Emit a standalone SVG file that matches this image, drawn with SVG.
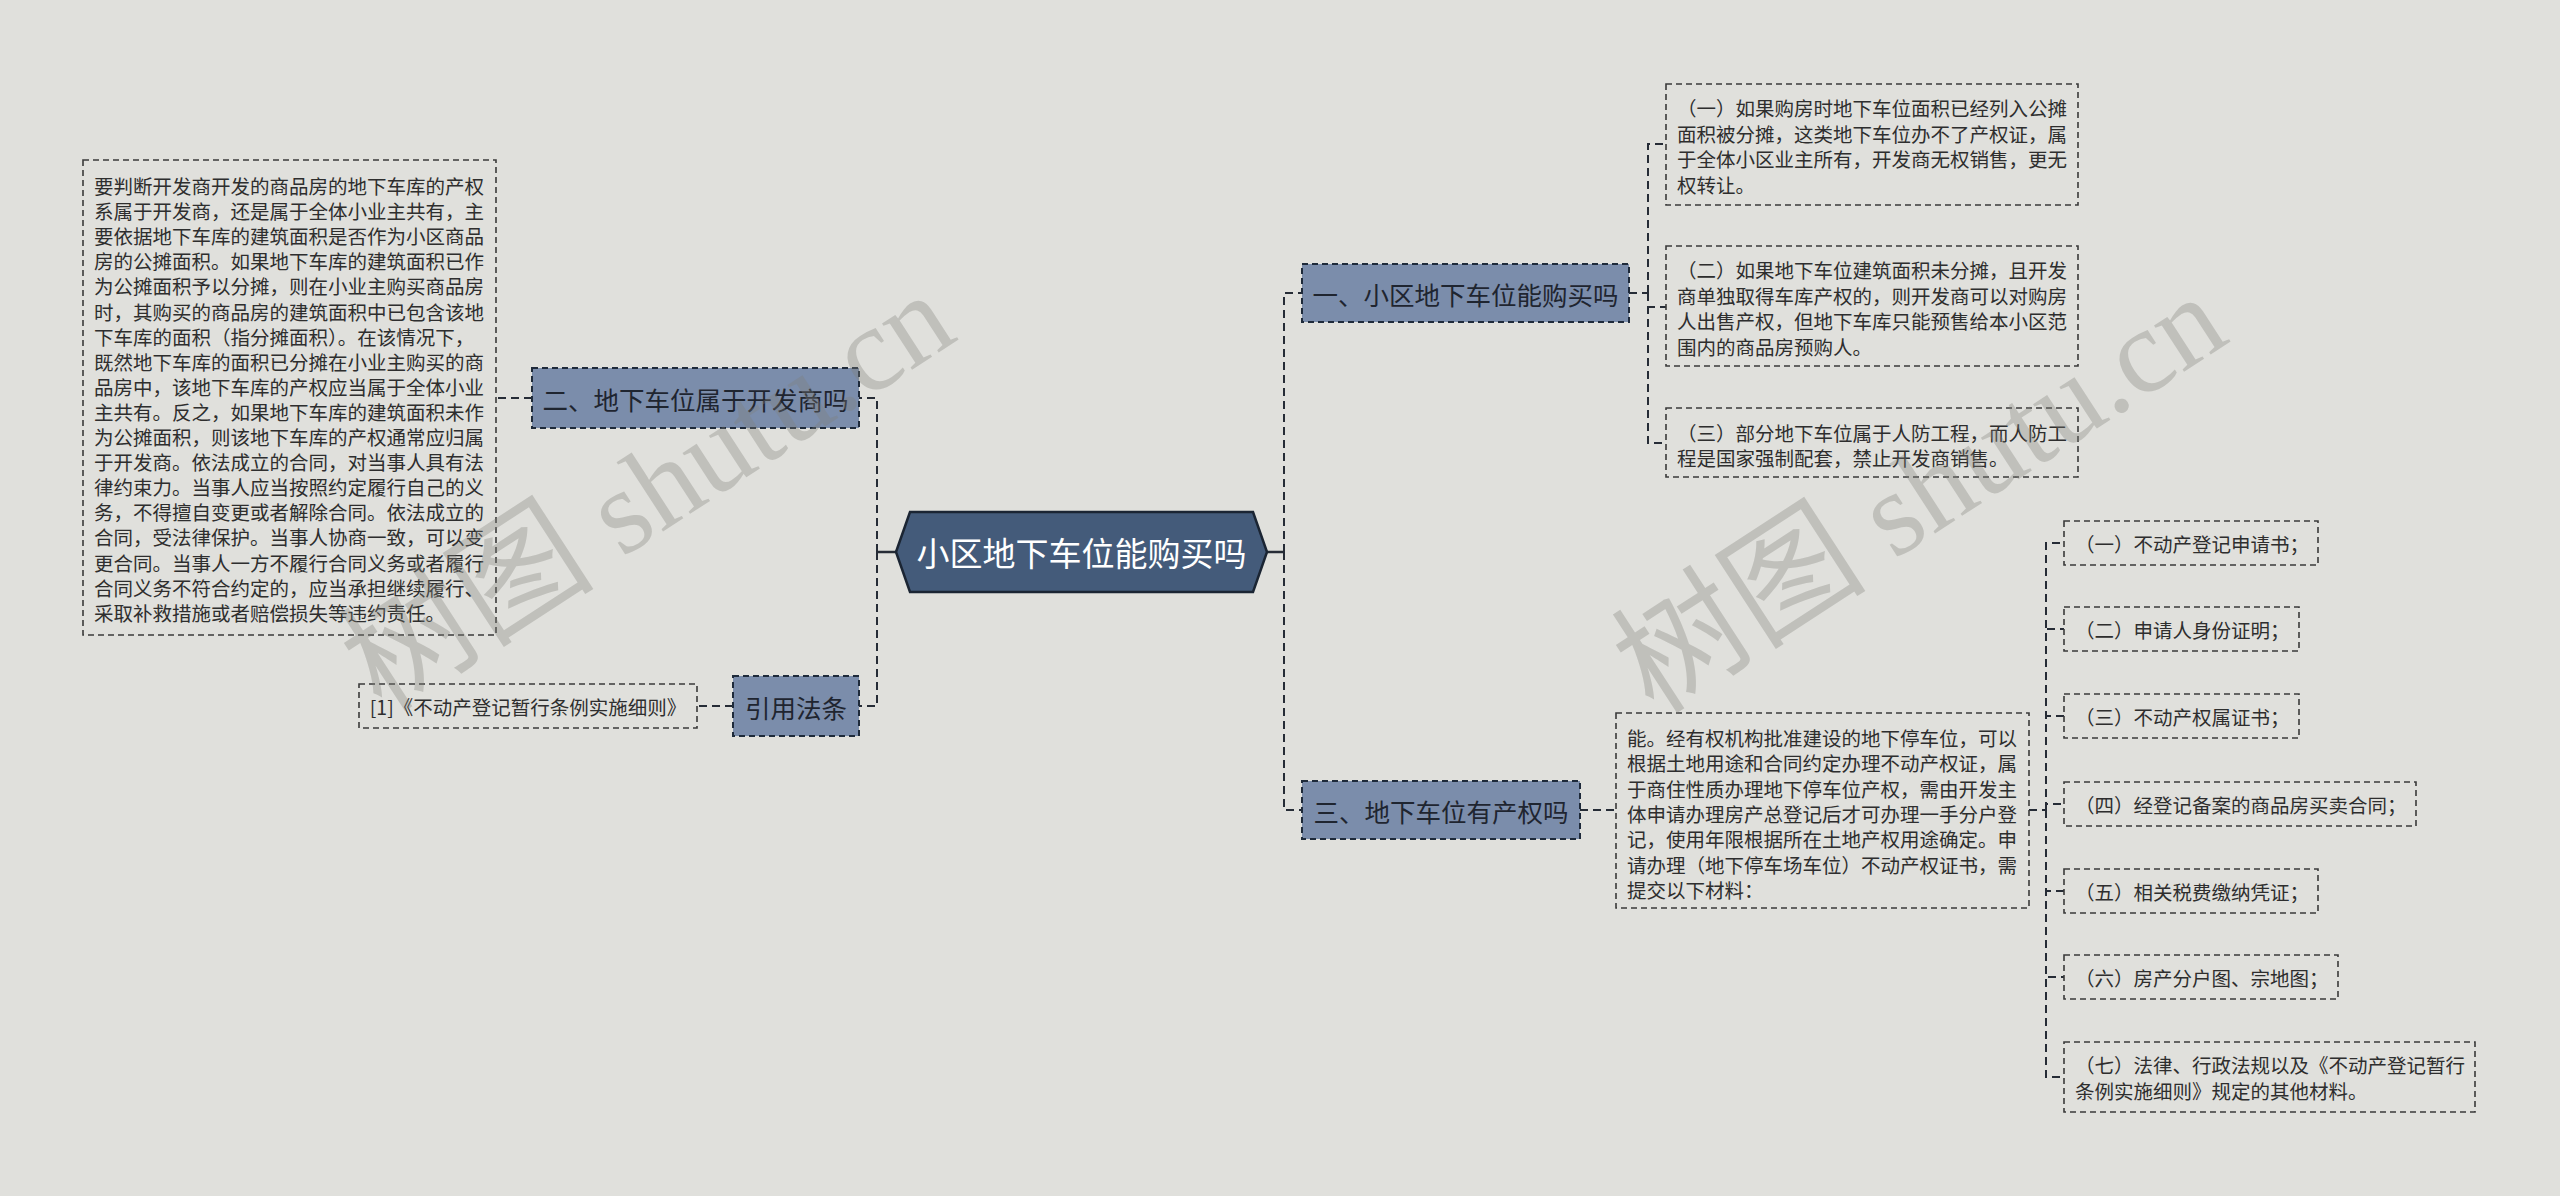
<svg xmlns="http://www.w3.org/2000/svg" width="2560" height="1196" viewBox="0 0 2560 1196">
<style>
.leaf{fill:none;stroke:#3a3a3a;stroke-width:1.6;stroke-dasharray:6 4}
.l1{fill:#7b8dab;stroke:#1e2a3a;stroke-width:2;stroke-dasharray:6 4}
.root{fill:#445b7a;stroke:#1b2533;stroke-width:2.5}
.conn{fill:none;stroke:#262c36;stroke-width:2;stroke-dasharray:8 5}
.solid{fill:none;stroke:#262c36;stroke-width:2.5}
.t{font-family:"Noto Sans CJK SC","Noto Sans",sans-serif;font-size:19.5px;fill:#2e2e2e;dominant-baseline:central}
.t1{font-family:"Noto Sans CJK SC","Noto Sans",sans-serif;font-size:25.5px;fill:#1f2530;text-anchor:middle;dominant-baseline:central}
.t0{font-family:"Noto Sans CJK SC","Noto Sans",sans-serif;font-size:33px;fill:#ffffff;text-anchor:middle;dominant-baseline:central}
.wm{font-family:"Liberation Serif","Noto Sans CJK SC",serif;font-size:120px;fill:#80807a;fill-opacity:0.33}
.wmc{font-size:128px}
</style>
<rect x="0" y="0" width="2560" height="1196" fill="#e0e0dc"/>

<g id="connectors">
  <path class="solid" d="M896 552 H877"/>
  <path class="conn" d="M877 552 V398 H859"/>
  <path class="conn" d="M877 552 V706 H859"/>
  <path class="conn" d="M532 398 H496"/>
  <path class="conn" d="M733 706 H697"/>
  <path class="solid" d="M1267 552 H1284"/>
  <path class="conn" d="M1284 552 V293 H1302"/>
  <path class="conn" d="M1284 552 V810 H1302"/>
  <path class="conn" d="M1629 293 H1648"/>
  <path class="conn" d="M1648 293 V144 H1666"/>
  <path class="conn" d="M1648 293 V307 H1666"/>
  <path class="conn" d="M1648 293 V443 H1666"/>
  <path class="conn" d="M1580 810 H1616"/>
  <path class="conn" d="M2029 810 H2046"/>
  <path class="conn" d="M2046 810 V543 H2064"/>
  <path class="conn" d="M2046 810 V629 H2064"/>
  <path class="conn" d="M2046 810 V716 H2064"/>
  <path class="conn" d="M2046 810 V804 H2064"/>
  <path class="conn" d="M2046 810 V891 H2064"/>
  <path class="conn" d="M2046 810 V977 H2064"/>
  <path class="conn" d="M2046 810 V1077 H2064"/>
</g>

<g id="root">
  <polygon class="root" points="896,552 910,512 1253,512 1267,552 1253,592 910,592"/>
  <text class="t0" x="1081.5" y="552">小区地下车位能购买吗</text>
</g>

<g id="n-two">
  <rect class="l1" x="532" y="368" width="327" height="60"/>
  <text class="t1" x="695.5" y="398">二、地下车位属于开发商吗</text>
</g>
<g id="n-two-text">
  <rect class="leaf" x="83" y="160" width="413" height="475"/>
  <text class="t">
    <tspan x="94" y="185">要判断开发商开发的商品房的地下车库的产权</tspan>
    <tspan x="94" y="210.1">系属于开发商，还是属于全体小业主共有，主</tspan>
    <tspan x="94" y="235.2">要依据地下车库的建筑面积是否作为小区商品</tspan>
    <tspan x="94" y="260.3">房的公摊面积。如果地下车库的建筑面积已作</tspan>
    <tspan x="94" y="285.4">为公摊面积予以分摊，则在小业主购买商品房</tspan>
    <tspan x="94" y="310.5">时，其购买的商品房的建筑面积中已包含该地</tspan>
    <tspan x="94" y="335.6">下车库的面积（指分摊面积）。在该情况下，</tspan>
    <tspan x="94" y="360.7">既然地下车库的面积已分摊在小业主购买的商</tspan>
    <tspan x="94" y="385.8">品房中，该地下车库的产权应当属于全体小业</tspan>
    <tspan x="94" y="410.9">主共有。反之，如果地下车库的建筑面积未作</tspan>
    <tspan x="94" y="436">为公摊面积，则该地下车库的产权通常应归属</tspan>
    <tspan x="94" y="461.1">于开发商。依法成立的合同，对当事人具有法</tspan>
    <tspan x="94" y="486.2">律约束力。当事人应当按照约定履行自己的义</tspan>
    <tspan x="94" y="511.3">务，不得擅自变更或者解除合同。依法成立的</tspan>
    <tspan x="94" y="536.4">合同，受法律保护。当事人协商一致，可以变</tspan>
    <tspan x="94" y="561.5">更合同。当事人一方不履行合同义务或者履行</tspan>
    <tspan x="94" y="586.6">合同义务不符合约定的，应当承担继续履行、</tspan>
    <tspan x="94" y="611.7">采取补救措施或者赔偿损失等违约责任。</tspan>
  </text>
</g>

<g id="n-law">
  <rect class="l1" x="733" y="676" width="126" height="60"/>
  <text class="t1" x="796" y="706">引用法条</text>
</g>
<g id="n-law-1">
  <rect class="leaf" x="359" y="684" width="338" height="44"/>
  <text class="t" x="528" y="706" text-anchor="middle">[1]《不动产登记暂行条例实施细则》</text>
</g>

<g id="n-one">
  <rect class="l1" x="1302" y="264" width="327" height="58"/>
  <text class="t1" x="1465.5" y="293">一、小区地下车位能购买吗</text>
</g>
<g id="n-one-1">
  <rect class="leaf" x="1666" y="84" width="412" height="121"/>
  <text class="t">
    <tspan x="1677" y="107">（一）如果购房时地下车位面积已经列入公摊</tspan>
    <tspan x="1677" y="132.6">面积被分摊，这类地下车位办不了产权证，属</tspan>
    <tspan x="1677" y="158.2">于全体小区业主所有，开发商无权销售，更无</tspan>
    <tspan x="1677" y="183.8">权转让。</tspan>
  </text>
</g>
<g id="n-one-2">
  <rect class="leaf" x="1666" y="246" width="412" height="120"/>
  <text class="t">
    <tspan x="1677" y="269">（二）如果地下车位建筑面积未分摊，且开发</tspan>
    <tspan x="1677" y="294.6">商单独取得车库产权的，则开发商可以对购房</tspan>
    <tspan x="1677" y="320.2">人出售产权，但地下车库只能预售给本小区范</tspan>
    <tspan x="1677" y="345.8">围内的商品房预购人。</tspan>
  </text>
</g>
<g id="n-one-3">
  <rect class="leaf" x="1666" y="408" width="412" height="69"/>
  <text class="t">
    <tspan x="1677" y="431.5">（三）部分地下车位属于人防工程，而人防工</tspan>
    <tspan x="1677" y="457">程是国家强制配套，禁止开发商销售。</tspan>
  </text>
</g>

<g id="n-three">
  <rect class="l1" x="1302" y="781" width="278" height="58"/>
  <text class="t1" x="1441" y="810">三、地下车位有产权吗</text>
</g>
<g id="n-three-text">
  <rect class="leaf" x="1616" y="713" width="413" height="195"/>
  <text class="t">
    <tspan x="1627" y="737">能。经有权机构批准建设的地下停车位，可以</tspan>
    <tspan x="1627" y="762.3">根据土地用途和合同约定办理不动产权证，属</tspan>
    <tspan x="1627" y="787.6">于商住性质办理地下停车位产权，需由开发主</tspan>
    <tspan x="1627" y="812.9">体申请办理房产总登记后才可办理一手分户登</tspan>
    <tspan x="1627" y="838.2">记，使用年限根据所在土地产权用途确定。申</tspan>
    <tspan x="1627" y="863.5">请办理（地下停车场车位）不动产权证书，需</tspan>
    <tspan x="1627" y="888.8">提交以下材料：</tspan>
  </text>
</g>

<g id="item-1">
  <rect class="leaf" x="2064" y="521" width="254" height="44"/>
  <text class="t" x="2075" y="543">（一）不动产登记申请书；</text>
</g>
<g id="item-2">
  <rect class="leaf" x="2064" y="607" width="235" height="44"/>
  <text class="t" x="2075" y="629">（二）申请人身份证明；</text>
</g>
<g id="item-3">
  <rect class="leaf" x="2064" y="694" width="235" height="44"/>
  <text class="t" x="2075" y="716">（三）不动产权属证书；</text>
</g>
<g id="item-4">
  <rect class="leaf" x="2064" y="782" width="352" height="44"/>
  <text class="t" x="2075" y="804">（四）经登记备案的商品房买卖合同；</text>
</g>
<g id="item-5">
  <rect class="leaf" x="2064" y="869" width="254" height="44"/>
  <text class="t" x="2075" y="891">（五）相关税费缴纳凭证；</text>
</g>
<g id="item-6">
  <rect class="leaf" x="2064" y="955" width="274" height="44"/>
  <text class="t" x="2075" y="977">（六）房产分户图、宗地图；</text>
</g>
<g id="item-7">
  <rect class="leaf" x="2064" y="1042" width="411" height="70"/>
  <text class="t">
    <tspan x="2075" y="1064">（七）法律、行政法规以及《不动产登记暂行</tspan>
    <tspan x="2075" y="1090">条例实施细则》规定的其他材料。</tspan>
  </text>
</g>

<g id="watermark">
  <text class="wm" transform="translate(382,714) rotate(-33)"><tspan class="wmc">树图</tspan> shutu.cn</text>
  <text class="wm" transform="translate(1654,716) rotate(-33)"><tspan class="wmc">树图</tspan> shutu.cn</text>
</g>
</svg>
